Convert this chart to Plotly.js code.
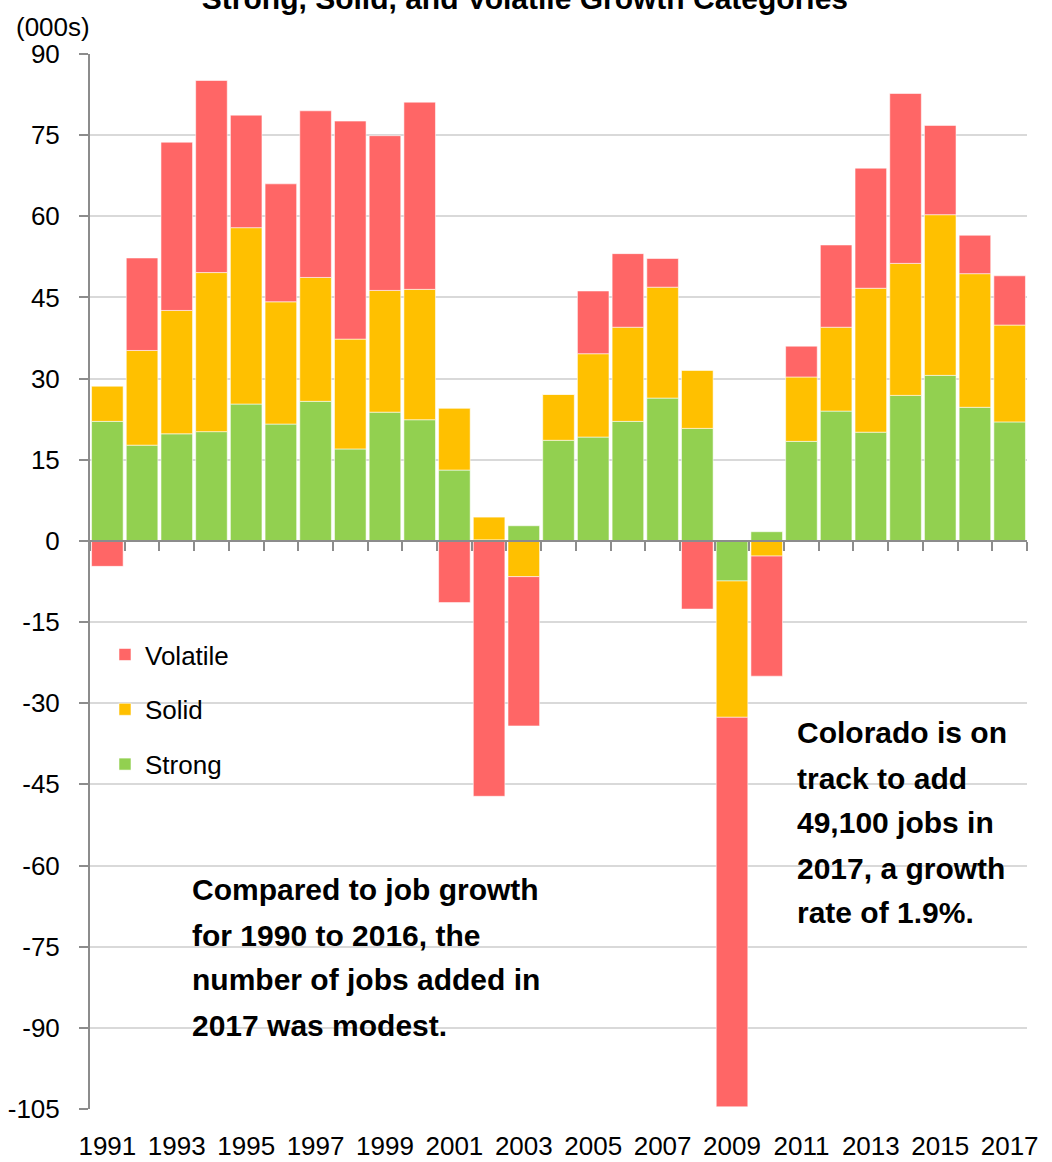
<!DOCTYPE html>
<html>
<head>
<meta charset="utf-8">
<script src="https://cdn.plot.ly/plotly-3.0.1.min.js"></script>
<style>html,body{margin:0;padding:0;background:#fff;}#chart{width:1052px;height:1162px;}</style>
</head>
<body>
<div id="chart"></div>
<script>
const years = [1991,1992,1993,1994,1995,1996,1997,1998,1999,2000,2001,2002,2003,2004,2005,2006,2007,2008,2009,2010,2011,2012,2013,2014,2015,2016,2017];
const strong = [22.1,17.7,19.8,20.2,25.3,21.6,25.8,17.0,23.8,22.4,13.1,0.2,2.8,18.6,19.2,22.1,26.4,20.8,-7.4,1.7,18.4,24.0,20.1,26.9,30.6,24.7,22.0];
const solid = [6.5,17.5,22.8,29.4,32.6,22.6,22.9,20.3,22.5,24.1,11.4,4.2,-6.6,8.5,15.4,17.4,20.5,10.7,-25.2,-2.8,11.9,15.5,26.6,24.4,29.7,24.7,17.9];
const volatile = [-4.7,17.1,31.1,35.5,20.8,21.8,30.8,40.3,28.6,34.6,-11.4,-47.2,-27.6,0,11.6,13.6,5.3,-12.6,-72.0,-22.2,5.7,15.2,22.2,31.4,16.5,7.1,9.1];
const yTicks = [-105,-90,-75,-60,-45,-30,-15,0,15,30,45,60,75,90];
const xTickYears = [1991,1993,1995,1997,1999,2001,2003,2005,2007,2009,2011,2013,2015,2017];
const titleText = "Strong, Solid, and Volatile Growth Categories";
const unitLabel = "(000s)";
const noteLeft = ["Compared to job growth","for 1990 to 2016, the","number of jobs added in","2017 was modest."];
const noteRight = ["Colorado is on","track to add","49,100 jobs in","2017, a growth","rate of 1.9%."];

const FONT = "'Liberation Sans', Arial, sans-serif";
const edge = {color:'rgba(255,255,255,0.55)', width:1};
function barTrace(name, vals, color, rank){
  return {type:'bar', name:name, x:years, y:vals, legendgroup:name, legendrank:rank,
    marker:{color:color, line:edge}, hoverinfo:'x+y+name'};
}
const traces = [
  barTrace('Strong', strong, '#92D050', 3),
  barTrace('Solid', solid, '#FFC000', 2),
  barTrace('Volatile', volatile, '#FF6666', 1),
  {type:'scatter', mode:'none', x:years, y:strong, xaxis:'x2', yaxis:'y', showlegend:false, hoverinfo:'skip'}
];

const leftYs = [0.2076,0.1649,0.1223,0.0796];
const rightYs = [0.3564,0.3137,0.2711,0.2284,0.1858];
const annotations = [];
noteLeft.forEach((t,i)=>annotations.push({text:t, xref:'paper', yref:'paper', x:0.1067, y:leftYs[i], xanchor:'left', yanchor:'middle', showarrow:false, font:{family:FONT, size:30, color:'#000', weight:'bold'}}));
noteRight.forEach((t,i)=>annotations.push({text:t, xref:'paper', yref:'paper', x:0.7524, y:rightYs[i], xanchor:'left', yanchor:'middle', showarrow:false, font:{family:FONT, size:30, color:'#000', weight:'bold'}}));
annotations.push({text:unitLabel, xref:'paper', yref:'paper', x:-0.0811, y:1.0256, xanchor:'left', yanchor:'middle', showarrow:false, font:{family:FONT, size:26, color:'#000'}});

const layout = {
  width:1052, height:1162,
  margin:{l:90, r:25, t:54, b:53},
  paper_bgcolor:'#fff', plot_bgcolor:'#fff',
  barmode:'relative', bargap:0.09,
  font:{family:FONT, color:'#000'},
  title:{text:titleText, font:{family:FONT, size:30, color:'#000', weight:'bold'}, xref:'container', x:0.499, xanchor:'center', yref:'container', y:0.992, yanchor:'bottom'},
  xaxis:{range:[1990.5,2017.5], tickmode:'array', tickvals:xTickYears, ticktext:xTickYears.map(String), ticks:'', showgrid:false, zeroline:false, showline:false, tickfont:{size:26, family:FONT, color:'#000'}, ticklabelstandoff:19},
  xaxis2:{overlaying:'x', anchor:'free', position:0.53846, side:'bottom', range:[1990.5,2017.5], tickmode:'linear', tick0:1990.5, dtick:1, ticks:'outside', ticklen:9, tickwidth:2, tickcolor:'#8c8c8c', showticklabels:false, showgrid:false, zeroline:false, showline:true, linecolor:'#8c8c8c', linewidth:2},
  yaxis:{range:[-105,90], tickmode:'array', tickvals:yTicks, ticktext:yTicks.map(String), ticks:'outside', ticklen:9, tickwidth:2, tickcolor:'#8c8c8c', showline:true, linecolor:'#8c8c8c', linewidth:2, showgrid:true, gridcolor:'#d9d9d9', gridwidth:2, zeroline:false, tickfont:{size:26, family:FONT, color:'#000'}, ticklabelstandoff:14},
  legend:{x:0.016, y:0.453, xanchor:'left', yanchor:'top', traceorder:'grouped', tracegroupgap:18, font:{size:26, family:FONT, color:'#000'}, bgcolor:'rgba(0,0,0,0)'},
  showlegend:true,
  annotations:annotations
};
Plotly.newPlot('chart', traces, layout, {displayModeBar:false, staticPlot:true});
</script>
</body>
</html>
